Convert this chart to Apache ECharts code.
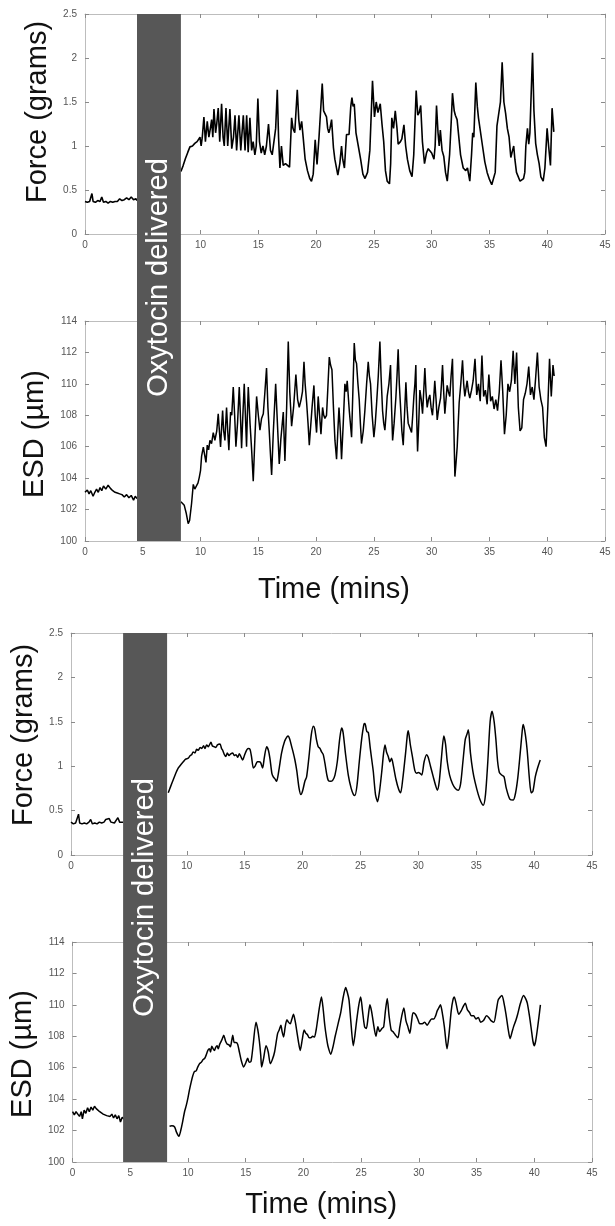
<!DOCTYPE html>
<html><head><meta charset="utf-8">
<script src="https://cdn.jsdelivr.net/npm/echarts@6/dist/echarts.min.js"></script>
<style>html,body{margin:0;padding:0;background:#fff}#c{width:615px;height:1226px}</style>
</head><body><div id="c"></div>
<script>
// ---------------- DATA ----------------
const timeRange = [0, 45];
const forceRange = [0, 2.5];
const esdRange = [100, 114];
const oxytocinWindow = [4.5, 8.3];   // minutes, delivery period
const oxytocinLabel = 'Oxytocin delivered';

// Top figure, force (grams)  [time (min), value]
const forceTopPre = [[0,0.37],[0.2,0.36],[0.4,0.37],[0.55,0.38],[0.6,0.46],[0.7,0.37],[0.9,0.36],[1.1,0.38],[1.3,0.37],[1.45,0.42],[1.6,0.36],[1.8,0.37],[2.0,0.35],[2.2,0.37],[2.4,0.36],[2.6,0.37],[2.8,0.37],[3.0,0.40],[3.2,0.38],[3.4,0.39],[3.6,0.41],[3.8,0.39],[4.0,0.42],[4.2,0.39],[4.4,0.40],[4.5,0.38]];
const forceTopPost = [[8.3,0.71],[8.5,0.78],[8.7,0.86],[8.9,0.93],[9.08,0.99],[9.3,1.0],[9.5,1.03],[9.7,1.05],[9.85,1.05],[9.95,1.1],[10.05,1.0],[10.15,1.1],[10.29,1.33],[10.42,1.05],[10.58,1.28],[10.72,1.1],[10.85,1.2],[10.96,1.3],[11.06,1.1],[11.16,1.42],[11.3,1.15],[11.4,1.25],[11.53,1.43],[11.66,1.05],[11.82,1.48],[11.95,1.1],[12.05,1.0],[12.2,1.43],[12.35,1.0],[12.54,1.42],[12.7,0.97],[12.85,1.1],[12.98,1.35],[13.12,0.95],[13.32,1.35],[13.48,0.95],[13.7,1.35],[13.85,0.95],[13.99,1.35],[14.12,0.93],[14.27,1.32],[14.42,0.95],[14.55,1.05],[14.7,0.9],[14.82,1.0],[14.96,1.54],[15.1,1.05],[15.25,0.92],[15.4,1.0],[15.55,0.9],[15.7,1.0],[15.88,1.25],[16.05,0.95],[16.2,0.9],[16.35,0.92],[16.5,1.2],[16.64,1.64],[16.75,1.1],[16.87,0.75],[17.0,1.0],[17.15,0.78],[17.35,0.8],[17.5,0.78],[17.7,0.76],[17.88,1.32],[18.0,1.2],[18.15,1.15],[18.37,1.64],[18.5,1.3],[18.6,1.18],[18.75,1.28],[18.9,1.07],[19.05,0.85],[19.25,0.72],[19.45,0.63],[19.6,0.6],[19.75,0.68],[19.92,1.07],[20.08,0.79],[20.25,1.1],[20.53,1.71],[20.65,1.4],[20.78,1.42],[20.9,1.33],[21.0,1.2],[21.1,1.15],[21.2,1.2],[21.34,1.3],[21.5,0.98],[21.62,0.85],[21.88,0.67],[22.05,0.8],[22.2,1.0],[22.3,0.85],[22.45,0.75],[22.63,1.13],[22.85,1.13],[23.0,1.45],[23.1,1.55],[23.2,1.45],[23.3,1.48],[23.45,1.15],[23.65,1.0],[23.85,0.85],[24.05,0.68],[24.23,0.63],[24.45,0.7],[24.65,0.95],[24.88,1.74],[25.05,1.33],[25.2,1.5],[25.35,1.38],[25.55,1.48],[25.7,1.25],[25.85,1.05],[26.0,0.72],[26.15,0.6],[26.35,0.57],[26.45,0.8],[26.55,1.32],[26.7,1.2],[26.85,1.4],[27.0,1.2],[27.1,1.02],[27.3,1.05],[27.42,1.08],[27.6,1.24],[27.75,1.0],[27.9,0.85],[28.1,0.72],[28.3,0.65],[28.45,0.9],[28.66,1.63],[28.8,1.35],[28.92,1.38],[29.05,1.46],[29.2,1.05],[29.38,0.8],[29.55,0.92],[29.7,0.97],[29.85,0.95],[30.0,0.92],[30.2,0.85],[30.3,1.0],[30.42,1.46],[30.55,1.15],[30.65,1.0],[30.75,1.18],[30.9,0.95],[31.05,0.88],[31.2,0.7],[31.35,0.6],[31.55,0.9],[31.7,1.3],[31.8,1.6],[31.95,1.4],[32.05,1.35],[32.2,1.3],[32.35,1.1],[32.5,0.9],[32.73,0.75],[32.95,0.72],[33.1,0.75],[33.3,0.6],[33.45,0.9],[33.55,1.15],[33.65,1.1],[33.82,1.72],[33.95,1.45],[34.05,1.32],[34.2,1.32],[34.4,1.0],[34.6,0.82],[34.8,0.7],[35.0,0.62],[35.2,0.56],[35.35,0.55],[35.5,0.7],[35.65,1.23],[35.8,1.25],[35.95,1.5],[36.1,1.95],[36.25,1.5],[36.4,1.37],[36.55,1.2],[36.7,1.1],[36.85,0.87],[37.0,0.95],[37.1,1.0],[37.2,0.85],[37.34,0.7],[37.5,0.68],[37.65,0.6],[37.8,0.58],[37.95,0.63],[38.06,0.7],[38.15,1.0],[38.29,1.2],[38.4,1.02],[38.5,1.15],[38.73,2.06],[38.85,1.4],[39.0,1.03],[39.15,0.9],[39.3,0.8],[39.45,0.65],[39.65,0.6],[39.8,0.75],[39.99,1.2],[40.12,1.0],[40.28,0.78],[40.42,1.43],[40.57,1.16]];

// Top figure, ESD (µm)
const esdTopPre = [[0,103.1],[0.2,103.25],[0.35,103.0],[0.5,103.2],[0.7,102.85],[0.85,103.1],[1.0,103.3],[1.15,103.1],[1.3,103.4],[1.45,103.2],[1.6,103.5],[1.8,103.3],[2.0,103.55],[2.2,103.35],[2.4,103.2],[2.6,103.1],[2.8,103.05],[3.0,103.0],[3.2,102.95],[3.4,102.8],[3.6,102.95],[3.8,102.75],[4.0,102.9],[4.2,102.6],[4.35,102.85],[4.5,102.7]];
const esdTopPost = [[8.3,102.5],[8.45,102.4],[8.59,102.27],[8.75,101.8],[8.93,101.1],[9.05,101.3],[9.22,102.37],[9.37,103.6],[9.5,103.3],[9.66,103.4],[9.78,103.7],[9.89,104.05],[10.0,104.5],[10.09,105.4],[10.24,105.98],[10.35,105.5],[10.47,105.0],[10.58,106.1],[10.7,105.8],[10.81,106.4],[10.95,106.2],[11.1,106.9],[11.24,106.4],[11.4,107.0],[11.53,108.1],[11.63,107.0],[11.73,105.98],[11.82,107.2],[11.91,108.3],[12.0,107.0],[12.11,106.4],[12.18,107.5],[12.25,108.5],[12.35,107.0],[12.45,105.77],[12.52,107.0],[12.6,108.2],[12.7,108.0],[12.83,109.8],[12.95,108.0],[13.06,106.0],[13.2,107.5],[13.35,109.8],[13.45,108.0],[13.55,105.9],[13.65,107.8],[13.78,110.0],[13.88,108.0],[13.98,106.0],[14.05,108.0],[14.13,109.8],[14.28,107.5],[14.42,105.8],[14.56,103.8],[14.7,106.5],[14.85,109.2],[15.0,108.0],[15.14,107.05],[15.28,107.8],[15.43,108.1],[15.57,109.5],[15.71,111.0],[15.83,108.5],[15.94,107.05],[16.05,105.5],[16.15,104.2],[16.3,107.0],[16.5,110.0],[16.65,107.5],[16.81,104.9],[16.95,106.5],[17.05,107.3],[17.16,108.2],[17.3,105.1],[17.45,108.5],[17.59,112.7],[17.72,109.5],[17.88,107.3],[18.05,108.5],[18.25,110.6],[18.4,109.0],[18.54,108.5],[18.7,109.0],[18.82,109.5],[18.95,111.4],[19.05,110.0],[19.18,108.8],[19.3,107.5],[19.41,106.1],[19.55,107.5],[19.65,108.5],[19.81,109.9],[19.92,108.0],[20.04,106.9],[20.18,109.2],[20.3,108.0],[20.42,106.8],[20.56,108.5],[20.66,108.0],[20.76,107.8],[20.9,108.0],[21.0,109.5],[21.14,111.7],[21.25,111.2],[21.37,110.9],[21.5,108.5],[21.63,106.4],[21.77,105.2],[21.88,107.0],[21.98,108.5],[22.1,107.0],[22.2,105.2],[22.35,107.5],[22.49,110.0],[22.6,109.5],[22.69,110.2],[22.87,108.3],[23.07,106.6],[23.18,109.5],[23.3,112.6],[23.4,111.5],[23.5,111.3],[23.62,110.0],[23.73,109.0],[23.83,107.5],[23.93,106.2],[24.08,107.0],[24.22,108.3],[24.37,110.0],[24.51,111.4],[24.61,110.5],[24.71,110.0],[24.85,108.0],[25.0,106.6],[25.12,107.5],[25.23,108.7],[25.38,110.5],[25.52,112.7],[25.62,110.5],[25.75,108.3],[25.85,107.5],[25.95,107.05],[26.05,108.0],[26.15,109.2],[26.3,110.0],[26.44,111.2],[26.53,108.5],[26.62,106.4],[26.75,107.5],[26.9,109.1],[27.0,110.5],[27.1,112.2],[27.2,110.0],[27.31,108.5],[27.42,107.0],[27.54,106.1],[27.65,108.0],[27.77,110.1],[27.87,108.5],[27.97,107.5],[28.1,107.5],[28.26,106.9],[28.36,108.0],[28.46,109.2],[28.55,110.0],[28.63,111.2],[28.7,108.0],[28.78,105.7],[28.88,107.5],[28.98,109.6],[29.1,109.0],[29.21,108.1],[29.31,109.5],[29.41,111.0],[29.51,109.5],[29.61,108.5],[29.72,109.0],[29.84,109.3],[29.95,108.5],[30.07,108.0],[30.17,109.0],[30.27,110.2],[30.38,109.0],[30.48,107.7],[30.62,108.5],[30.77,109.1],[30.85,110.0],[30.94,111.2],[31.04,109.5],[31.14,108.1],[31.24,109.0],[31.34,109.9],[31.45,109.5],[31.57,109.2],[31.68,110.5],[31.8,111.6],[31.9,108.0],[32.01,104.1],[32.11,105.0],[32.21,106.0],[32.3,107.5],[32.38,108.8],[32.52,110.0],[32.67,111.5],[32.77,110.0],[32.87,109.2],[32.97,109.7],[33.07,110.2],[33.18,109.5],[33.3,109.1],[33.45,109.6],[33.59,110.2],[33.75,111.6],[33.9,109.3],[34.05,110.0],[34.2,108.9],[34.35,111.8],[34.5,109.2],[34.65,109.6],[34.8,108.7],[34.95,110.6],[35.1,108.9],[35.25,109.2],[35.4,108.4],[35.55,109.0],[35.7,108.3],[35.85,109.5],[36.0,111.5],[36.15,109.5],[36.3,106.8],[36.45,108.0],[36.6,110.0],[36.75,109.5],[36.9,110.2],[37.05,112.1],[37.2,110.0],[37.35,112.0],[37.5,108.5],[37.65,107.0],[37.8,107.2],[37.95,109.0],[38.1,109.4],[38.25,110.0],[38.4,111.1],[38.55,109.3],[38.7,109.8],[38.85,109.0],[39.0,110.4],[39.15,112.0],[39.3,109.8],[39.45,109.0],[39.6,108.5],[39.75,106.6],[39.9,106.0],[40.05,108.5],[40.2,111.6],[40.35,109.2],[40.5,111.2],[40.6,110.5]];

// Bottom figure, force (grams)
const forceBottomPre = [[0,0.37],[0.2,0.35],[0.4,0.36],[0.55,0.38],[0.65,0.46],[0.75,0.36],[0.95,0.35],[1.15,0.36],[1.35,0.35],[1.55,0.37],[1.7,0.40],[1.85,0.35],[2.05,0.36],[2.25,0.35],[2.45,0.37],[2.65,0.36],[2.85,0.37],[3.0,0.40],[3.15,0.38],[3.3,0.41],[3.45,0.37],[3.6,0.39],[3.75,0.36],[3.9,0.38],[4.05,0.42],[4.2,0.37],[4.35,0.39],[4.5,0.37]];
const forceBottomPost = [[8.4,0.70],[8.6,0.77],[8.84,0.85],[9.05,0.92],[9.27,0.98],[9.5,1.02],[9.7,1.05],[9.9,1.08],[10.13,1.09],[10.3,1.12],[10.42,1.13],[10.55,1.16],[10.71,1.15],[10.85,1.19],[11.0,1.18],[11.15,1.21],[11.29,1.2],[11.45,1.23],[11.57,1.2],[11.72,1.24],[11.86,1.22],[12.09,1.27],[12.2,1.23],[12.35,1.22],[12.5,1.21],[12.65,1.24],[12.87,1.25],[13.0,1.2],[13.1,1.18],[13.25,1.13],[13.38,1.11],[13.5,1.15],[13.65,1.12],[13.8,1.14],[13.97,1.15],[14.1,1.12],[14.25,1.13],[14.4,1.10],[14.54,1.14],[14.7,1.10],[14.83,1.07],[15.0,1.13],[15.17,1.18],[15.3,1.2],[15.46,1.19],[15.6,1.1],[15.75,0.98],[15.9,1.0],[16.09,1.05],[16.25,1.05],[16.38,1.04],[16.55,0.98],[16.7,1.1],[16.9,1.22],[17.05,1.18],[17.19,1.08],[17.35,0.92],[17.47,0.88],[17.6,0.86],[17.76,0.83],[17.95,0.95],[18.19,1.15],[18.45,1.28],[18.65,1.33],[18.77,1.34],[18.9,1.3],[19.06,1.22],[19.2,1.15],[19.34,1.07],[19.5,0.95],[19.7,0.75],[19.86,0.68],[20.0,0.72],[20.2,0.83],[20.35,0.88],[20.55,1.1],[20.75,1.35],[20.93,1.45],[21.05,1.42],[21.2,1.3],[21.35,1.22],[21.5,1.2],[21.65,1.16],[21.79,1.13],[21.95,1.02],[22.1,0.9],[22.22,0.84],[22.4,0.83],[22.6,0.84],[22.8,0.9],[23.0,1.05],[23.2,1.3],[23.37,1.43],[23.5,1.38],[23.7,1.15],[23.95,0.9],[24.2,0.75],[24.4,0.68],[24.52,0.67],[24.7,0.78],[24.9,1.05],[25.1,1.3],[25.3,1.47],[25.39,1.48],[25.55,1.39],[25.68,1.38],[25.85,1.2],[26.0,1.05],[26.11,0.94],[26.3,0.68],[26.48,0.6],[26.65,0.72],[26.85,0.95],[27.0,1.15],[27.12,1.24],[27.25,1.16],[27.4,1.11],[27.55,1.05],[27.69,1.09],[27.85,1.0],[28.07,0.85],[28.3,0.74],[28.47,0.7],[28.65,0.85],[28.9,1.15],[29.05,1.35],[29.13,1.4],[29.3,1.25],[29.5,1.1],[29.7,0.95],[29.85,0.92],[30.0,0.93],[30.15,0.92],[30.3,0.9],[30.5,1.05],[30.71,1.13],[30.85,1.1],[31.05,1.0],[31.29,0.88],[31.5,0.78],[31.64,0.73],[31.8,0.82],[32.0,1.1],[32.2,1.34],[32.35,1.25],[32.5,1.05],[32.7,0.9],[32.96,0.8],[33.2,0.75],[33.45,0.73],[33.65,0.8],[33.85,1.05],[34.05,1.3],[34.2,1.36],[34.32,1.41],[34.5,1.15],[34.7,0.95],[34.9,0.82],[35.18,0.68],[35.4,0.6],[35.61,0.56],[35.8,0.68],[36.0,1.05],[36.2,1.5],[36.37,1.62],[36.55,1.5],[36.7,1.3],[36.85,1.05],[37.0,0.93],[37.2,0.9],[37.4,0.88],[37.6,0.75],[37.9,0.63],[38.2,0.62],[38.4,0.7],[38.6,0.88],[38.8,1.15],[39.0,1.43],[39.07,1.47],[39.25,1.35],[39.4,1.18],[39.6,0.85],[39.75,0.7],[39.9,0.72],[40.1,0.88],[40.3,0.98],[40.53,1.07]];

// Bottom figure, ESD (µm)
const esdBottomPre = [[0,103.2],[0.15,103.0],[0.3,103.2],[0.45,103.05],[0.6,102.9],[0.75,103.2],[0.85,102.75],[1.0,103.3],[1.15,103.1],[1.3,103.45],[1.45,103.2],[1.6,103.5],[1.75,103.3],[1.9,103.55],[2.05,103.4],[2.2,103.5],[2.35,103.2],[2.5,103.3],[2.65,103.05],[2.8,103.1],[2.95,102.95],[3.1,103.05],[3.25,102.9],[3.4,103.05],[3.55,102.8],[3.7,103.0],[3.85,102.75],[4.0,102.95],[4.15,102.55],[4.3,102.85],[4.5,102.7]];
const esdBottomPost = [[8.4,102.27],[8.6,102.3],[8.84,102.23],[9.0,101.9],[9.21,101.64],[9.4,102.1],[9.56,102.66],[9.7,103.2],[9.85,103.6],[10.0,104.1],[10.13,104.6],[10.28,105.1],[10.42,105.5],[10.55,105.75],[10.71,105.8],[10.85,106.05],[11.0,106.26],[11.15,106.35],[11.29,106.5],[11.45,106.6],[11.57,106.8],[11.72,107.1],[11.86,107.2],[11.95,107.0],[12.06,107.37],[12.18,107.2],[12.29,107.1],[12.4,107.3],[12.52,107.4],[12.62,107.2],[12.75,107.5],[12.95,107.8],[13.1,108.06],[13.25,107.7],[13.4,107.5],[13.55,107.45],[13.67,107.33],[13.78,107.7],[13.88,108.06],[14.0,107.6],[14.15,107.6],[14.3,107.5],[14.45,107.0],[14.6,106.5],[14.82,106.05],[15.0,106.3],[15.17,106.6],[15.3,106.35],[15.46,106.4],[15.65,107.5],[15.89,108.9],[16.05,108.4],[16.18,107.7],[16.3,106.8],[16.38,106.05],[16.55,106.6],[16.76,107.4],[16.95,107.0],[17.13,106.26],[17.3,106.5],[17.5,107.0],[17.76,108.17],[17.9,108.4],[18.05,108.7],[18.15,108.3],[18.28,107.96],[18.42,108.6],[18.57,109.06],[18.7,108.9],[18.86,108.8],[19.0,109.1],[19.14,109.4],[19.3,108.9],[19.43,108.3],[19.58,107.6],[19.72,107.1],[19.9,107.8],[20.06,108.4],[20.2,108.2],[20.35,108.1],[20.5,107.9],[20.64,107.9],[20.8,108.0],[20.95,107.95],[21.1,108.4],[21.22,109.0],[21.4,109.9],[21.56,110.5],[21.7,109.8],[21.85,108.7],[22.0,107.9],[22.14,107.33],[22.37,106.86],[22.55,107.3],[22.75,108.0],[22.94,108.6],[23.1,109.1],[23.23,109.5],[23.45,110.5],[23.66,111.1],[23.8,110.8],[23.95,110.3],[24.1,109.0],[24.32,107.4],[24.45,108.0],[24.61,109.0],[24.8,110.0],[24.96,110.5],[25.12,109.6],[25.3,108.6],[25.45,108.5],[25.6,109.2],[25.76,110.0],[25.9,109.6],[26.05,108.9],[26.28,108.0],[26.45,108.6],[26.6,108.3],[26.8,108.5],[26.95,108.6],[27.1,109.6],[27.26,110.4],[27.42,109.3],[27.6,108.4],[27.75,108.3],[27.95,108.1],[28.18,107.9],[28.35,108.6],[28.52,109.3],[28.7,109.8],[28.88,109.0],[29.05,108.6],[29.22,108.2],[29.36,108.9],[29.5,109.5],[29.7,109.4],[29.9,109.1],[30.08,108.8],[30.3,108.8],[30.5,108.9],[30.72,108.7],[30.9,108.9],[31.1,109.1],[31.3,109.1],[31.45,109.3],[31.58,109.6],[31.72,109.8],[31.87,110.0],[32.05,109.4],[32.21,108.6],[32.44,107.2],[32.62,108.2],[32.8,109.6],[32.95,110.3],[33.07,110.5],[33.25,110.0],[33.45,109.4],[33.65,109.6],[33.85,109.9],[34.02,110.1],[34.2,109.7],[34.4,109.5],[34.55,109.3],[34.75,109.3],[34.95,109.1],[35.15,109.2],[35.35,108.9],[35.6,109.0],[35.86,109.3],[36.05,109.2],[36.25,109.0],[36.5,108.9],[36.7,109.6],[36.87,110.3],[37.05,110.5],[37.2,110.6],[37.38,110.1],[37.55,109.4],[37.75,108.4],[37.9,107.85],[38.05,108.2],[38.2,108.6],[38.4,109.0],[38.56,109.4],[38.8,110.1],[39.07,110.6],[39.25,110.4],[39.4,110.1],[39.6,109.2],[39.75,108.4],[39.88,107.7],[40.0,107.4],[40.12,107.7],[40.26,108.4],[40.4,109.2],[40.53,110.0]];

// ---------------- CHART ----------------
const FONT = "'Liberation Sans', Arial, Helvetica, sans-serif";
const chart = echarts.init(document.getElementById('c'), null, {renderer: 'canvas'});

const panels = [
  {grid: {left: 85, top: 14, width: 520, height: 220}, range: forceRange, step: 0.5, yName: 'Force (grams)', namePad: [0, 0, 0, 24], xName: '', pre: forceTopPre, post: forceTopPost, smooth: false, width: 1.6},
  {grid: {left: 85, top: 321, width: 520, height: 220}, range: esdRange, step: 2, yName: 'ESD (\u00b5m)', namePad: [0, 6, 0, 0], xName: 'Time (mins)', xGap: 34, pre: esdTopPre, post: esdTopPost, smooth: false, width: 1.5},
  {grid: {left: 71, top: 633, width: 521, height: 222}, range: forceRange, step: 0.5, yName: 'Force (grams)', namePad: [0, 0, 0, 18], xName: '', pre: forceBottomPre, post: forceBottomPost, smooth: 0.25, width: 1.5},
  {grid: {left: 71, top: 942, width: 521, height: 220}, range: esdRange, step: 2, yName: 'ESD (\u00b5m)', namePad: [0, 4, 0, 0], xName: 'Time (mins)', xGap: 28, pre: esdBottomPre, post: esdBottomPost, smooth: 0.25, width: 1.5}
];

const frameColor = '#bdbdbd';
const tickColor = '#8a8a8a';
const labelColor = '#555';

const grid = [], xAxis = [], yAxis = [], series = [];
panels.forEach((p, i) => {
  grid.push(Object.assign({containLabel: false}, p.grid));
  const common = {
    splitLine: {show: false},
    axisLine: {show: true, onZero: false, lineStyle: {color: frameColor, width: 1}},
    axisTick: {show: true, inside: true, length: 4, lineStyle: {color: tickColor}}
  };
  xAxis.push(Object.assign({}, common, {
    type: 'value', gridIndex: i, position: 'bottom', min: timeRange[0], max: timeRange[1], interval: 5,
    axisLabel: {color: labelColor, fontSize: 10, fontFamily: FONT, margin: 6},
    name: p.xName, nameLocation: 'middle', nameGap: p.xGap || 0,
    nameTextStyle: {fontSize: 29, color: '#111', fontFamily: FONT, padding: [0, 22, 0, 0]}
  }));
  xAxis.push(Object.assign({}, common, {
    type: 'value', gridIndex: i, position: 'top', min: timeRange[0], max: timeRange[1], interval: 5,
    axisLabel: {show: false}
  }));
  yAxis.push(Object.assign({}, common, {
    type: 'value', gridIndex: i, position: 'left', min: p.range[0], max: p.range[1], interval: p.step,
    axisLabel: {color: labelColor, fontSize: 10, fontFamily: FONT, margin: 8},
    name: p.yName, nameLocation: 'middle', nameGap: 30,
    nameTextStyle: {fontSize: 29, color: '#111', fontFamily: FONT, padding: p.namePad}
  }));
  yAxis.push(Object.assign({}, common, {
    type: 'value', gridIndex: i, position: 'right', min: p.range[0], max: p.range[1], interval: p.step,
    axisLabel: {show: false}
  }));
  const lineStyle = {color: '#000', width: p.width};
  series.push({type: 'line', xAxisIndex: i * 2, yAxisIndex: i * 2, data: p.pre, showSymbol: false, symbol: 'none', lineStyle, silent: true, z: 5});
  series.push({type: 'line', xAxisIndex: i * 2, yAxisIndex: i * 2, data: p.post, showSymbol: false, symbol: 'none', smooth: p.smooth, lineStyle, silent: true, z: 5});
});

chart.setOption({
  animation: false,
  backgroundColor: '#fff',
  textStyle: {fontFamily: FONT},
  grid, xAxis, yAxis, series
});

function deliveryBar(topPanel, bottomPanel) {
  const x0 = chart.convertToPixel({xAxisIndex: topPanel * 2}, oxytocinWindow[0]);
  const x1 = chart.convertToPixel({xAxisIndex: topPanel * 2}, oxytocinWindow[1]);
  const y0 = chart.convertToPixel({yAxisIndex: topPanel * 2}, panels[topPanel].range[1]);
  const y1 = chart.convertToPixel({yAxisIndex: bottomPanel * 2}, panels[bottomPanel].range[0]);
  return [
    {type: 'rect', z: 100, shape: {x: x0, y: y0, width: x1 - x0, height: y1 - y0}, style: {fill: '#575757'}},
    {type: 'text', z: 101, x: (x0 + x1) / 2, y: (y0 + y1) / 2, rotation: Math.PI / 2,
     style: {text: oxytocinLabel, fill: '#fff', fontSize: 29, fontFamily: FONT, align: 'center', verticalAlign: 'middle', textAlign: 'center', textVerticalAlign: 'middle'}}
  ];
}
chart.setOption({graphic: [...deliveryBar(0, 1), ...deliveryBar(2, 3)]});
</script>
</body></html>
